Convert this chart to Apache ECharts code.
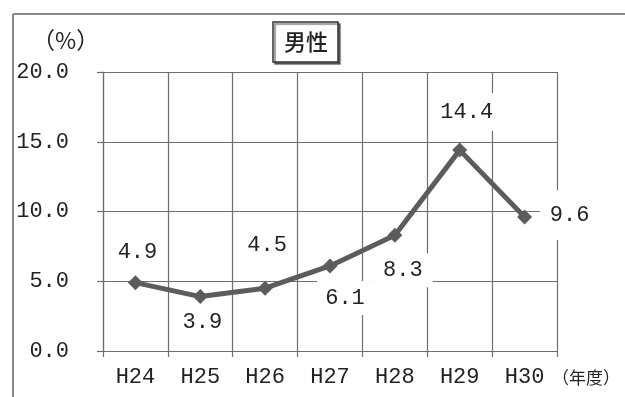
<!DOCTYPE html>
<html>
<head>
<meta charset="utf-8">
<script src="https://cdn.jsdelivr.net/npm/echarts@6/dist/echarts.min.js"></script>
<style>
  html, body { margin: 0; padding: 0; background: #fff; }
  #chart { width: 625px; height: 397px; }
</style>
</head>
<body>
<div id="chart"></div>
<script>
// 男性の割合（年度別）
const categories = ['H24', 'H25', 'H26', 'H27', 'H28', 'H29', 'H30'];
const values = [4.9, 3.9, 4.5, 6.1, 8.3, 14.4, 9.6];
const yTicks = [0, 5, 10, 15, 20];

const NUM_FONT = '"Liberation Mono", "DejaVu Sans Mono", monospace';
const JP_FONT = '"Noto Sans CJK JP", sans-serif';

// where each value label sits relative to its marker
const labelPlacement = [
  { offset: [2, -30], padding: [2, 4] },
  { offset: [2, 26], padding: [2, 4] },
  { offset: [2, -43], padding: [2, 4] },
  { offset: [15, 32], padding: [6, 8] },
  { offset: [8, 35], padding: [6, 10] },
  { offset: [7, -38], padding: [8, 4] },
  { offset: [45, -2], padding: [14, 10] }
];

const seriesData = values.map((v, i) => ({
  value: v,
  label: {
    offset: labelPlacement[i].offset,
    padding: labelPlacement[i].padding
  }
}));

const chart = echarts.init(document.getElementById('chart'), null, { renderer: 'canvas' });

chart.setOption({
  backgroundColor: '#fff',
  animation: false,
  grid: { left: 103, right: 68, top: 72, bottom: 46, containLabel: false },
  xAxis: {
    type: 'category',
    data: categories,
    boundaryGap: true,
    axisLine: { show: true, lineStyle: { color: '#6e6e6e', width: 1.2 } },
    axisTick: { show: true, length: 6, lineStyle: { color: '#6e6e6e', width: 1.2 } },
    splitLine: { show: true, lineStyle: { color: '#6e6e6e', width: 1.2 } },
    axisLabel: {
      color: '#222', fontFamily: NUM_FONT, fontSize: 22, margin: 15
    }
  },
  yAxis: {
    type: 'value',
    min: yTicks[0],
    max: yTicks[yTicks.length - 1],
    interval: yTicks[1] - yTicks[0],
    axisLine: { show: true, lineStyle: { color: '#6e6e6e', width: 1.2 } },
    axisTick: { show: true, length: 6, lineStyle: { color: '#6e6e6e', width: 1.2 } },
    splitLine: { show: true, lineStyle: { color: '#6e6e6e', width: 1.2 } },
    axisLabel: {
      color: '#222', fontFamily: NUM_FONT, fontSize: 22, margin: 34,
      formatter: v => v.toFixed(1)
    }
  },
  series: [{
    type: 'line',
    data: seriesData,
    symbol: 'diamond',
    symbolSize: 15,
    lineStyle: { color: '#5c5c5c', width: 5 },
    itemStyle: { color: '#5c5c5c' },
    label: {
      show: true,
      position: 'inside',
      color: '#222',
      fontFamily: NUM_FONT,
      fontSize: 22,
      backgroundColor: '#fff',
      formatter: p => p.value.toFixed(1)
    },
    z: 5
  }],
  graphic: [
    // outer frame
    { type: 'line', shape: { x1: 13, y1: 14, x2: 13, y2: 397 }, style: { stroke: '#888', lineWidth: 2 }, silent: true },
    { type: 'line', shape: { x1: 13, y1: 14, x2: 625, y2: 14 }, style: { stroke: '#888', lineWidth: 2 }, silent: true },
    // unit label
    { type: 'text', x: 32, y: 40, style: { text: '（%）', font: '23px ' + JP_FONT, fill: '#222', verticalAlign: 'middle' } },
    // series title box
    {
      type: 'rect', shape: { x: 273, y: 22, width: 65, height: 40 },
      style: { fill: '#fff', stroke: '#333', lineWidth: 1.5, shadowColor: 'rgba(0,0,0,0.5)', shadowOffsetX: 2, shadowOffsetY: 2, shadowBlur: 1 }
    },
    { type: 'text', x: 306, y: 42, style: { text: '男性', font: '500 22px ' + JP_FONT, fill: '#222', align: 'center', verticalAlign: 'middle' } },
    // x-axis unit
    { type: 'text', x: 552, y: 378, style: { text: '（年度）', font: '17px ' + JP_FONT, fill: '#222', verticalAlign: 'middle' } }
  ]
});
</script>
</body>
</html>
